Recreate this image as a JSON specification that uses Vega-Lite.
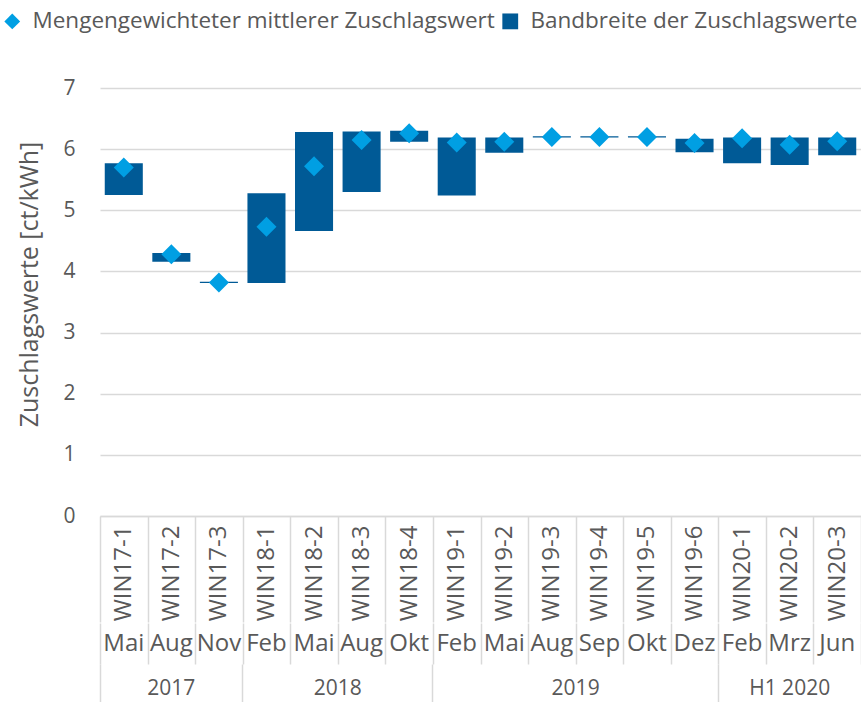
{
  "$schema": "https://vega.github.io/schema/vega-lite/v6.json",
  "padding": {"left": 1, "top": 10, "right": 0, "bottom": 0},
  "config": {
    "font": "Open Sans",
    "view": {"stroke": null},
    "concat": {"spacing": 0},
    "axis": {"labelColor": "#595959", "titleColor": "#595959", "labelFontSize": 21, "titleFontSize": 25, "titleFontWeight": "normal", "gridColor": "#d9d9d9", "domainColor": "#d9d9d9", "tickColor": "#d9d9d9", "gridWidth": 1.5, "tickWidth": 1.5, "domainWidth": 1.5},
    "legend": {"labelColor": "#595959", "labelFontSize": 22.5, "labelLimit": 600, "symbolSize": 250, "orient": "none", "legendX": -99, "legendY": -78, "direction": "horizontal", "title": null, "columnPadding": 4, "labelOffset": 9, "symbolStrokeWidth": 0}
  },
  "datasets": {
    "auctions": [
      {"id": "WIN17-1", "month": "Mai", "min": 5.25, "max": 5.77, "mean": 5.70},
      {"id": "WIN17-2", "month": "Aug", "min": 4.16, "max": 4.30, "mean": 4.28},
      {"id": "WIN17-3", "month": "Nov", "min": 3.81, "max": 3.83, "mean": 3.82},
      {"id": "WIN18-1", "month": "Feb", "min": 3.81, "max": 5.28, "mean": 4.73},
      {"id": "WIN18-2", "month": "Mai", "min": 4.66, "max": 6.28, "mean": 5.72},
      {"id": "WIN18-3", "month": "Aug", "min": 5.30, "max": 6.29, "mean": 6.15},
      {"id": "WIN18-4", "month": "Okt", "min": 6.12, "max": 6.30, "mean": 6.26},
      {"id": "WIN19-1", "month": "Feb", "min": 5.24, "max": 6.19, "mean": 6.11},
      {"id": "WIN19-2", "month": "Mai", "min": 5.94, "max": 6.19, "mean": 6.12},
      {"id": "WIN19-3", "month": "Aug", "min": 6.19, "max": 6.21, "mean": 6.20},
      {"id": "WIN19-4", "month": "Sep", "min": 6.19, "max": 6.21, "mean": 6.20},
      {"id": "WIN19-5", "month": "Okt", "min": 6.19, "max": 6.21, "mean": 6.20},
      {"id": "WIN19-6", "month": "Dez", "min": 5.95, "max": 6.17, "mean": 6.10},
      {"id": "WIN20-1", "month": "Feb", "min": 5.77, "max": 6.19, "mean": 6.18},
      {"id": "WIN20-2", "month": "Mrz", "min": 5.74, "max": 6.19, "mean": 6.07},
      {"id": "WIN20-3", "month": "Jun", "min": 5.90, "max": 6.19, "mean": 6.13}
    ]
  },
  "resolve": {"scale": {"x": "shared"}},
  "vconcat": [
    {
      "width": 761,
      "height": 428,
      "data": {"name": "auctions"},
      "encoding": {
        "x": {
          "field": "id", "type": "nominal", "sort": null,
          "scale": {"paddingInner": 0, "paddingOuter": 0, "domain": ["WIN17-1","WIN17-2","WIN17-3","WIN18-1","WIN18-2","WIN18-3","WIN18-4","WIN19-1","WIN19-2","WIN19-3","WIN19-4","WIN19-5","WIN19-6","WIN20-1","WIN20-2","WIN20-3"]},
          "axis": {"title": null, "labelAngle": -90, "labelAlign": "right", "labelBaseline": "middle", "labelFontSize": 24, "tickBand": "extent", "tickSize": 106, "labelPadding": -97, "domain": true, "grid": false}
        }
      },
      "layer": [
        {
          "mark": {"type": "bar", "width": {"band": 0.8}},
          "encoding": {
            "y": {"field": "min", "type": "quantitative", "scale": {"domain": [0, 7]}, "axis": {"title": "Zuschlagswerte [ct/kWh]", "values": [0,1,2,3,4,5,6,7], "format": "d", "grid": true, "domain": false, "ticks": false, "labelPadding": 25, "titlePadding": 20, "titleY": 196}},
            "y2": {"field": "max"},
            "color": {"datum": "Bandbreite der Zuschlagswerte", "scale": {"domain": ["Mengengewichteter mittlerer Zuschlagswert", "Bandbreite der Zuschlagswerte"], "range": ["#009FE3", "#005A96"]}}
          }
        },
        {
          "mark": {"type": "point", "filled": true, "size": 400, "opacity": 1},
          "encoding": {
            "y": {"field": "mean", "type": "quantitative"},
            "color": {"datum": "Mengengewichteter mittlerer Zuschlagswert", "scale": {"domain": ["Mengengewichteter mittlerer Zuschlagswert", "Bandbreite der Zuschlagswerte"], "range": ["#009FE3", "#005A96"]}},
            "shape": {"datum": "Mengengewichteter mittlerer Zuschlagswert", "scale": {"domain": ["Mengengewichteter mittlerer Zuschlagswert", "Bandbreite der Zuschlagswerte"], "range": ["diamond", "square"]}}
          }
        }
      ]
    },
    {
      "width": 761,
      "height": 41,
      "data": {"name": "auctions"},
      "mark": {"type": "text", "fontSize": 24, "color": "#595959"},
      "encoding": {
        "x": {"field": "id", "type": "nominal", "sort": null, "axis": {"title": null, "labels": false, "ticks": false, "domain": false, "grid": true, "tickBand": "extent"}},
        "text": {"field": "month"}
      }
    },
    {
      "width": 761,
      "height": 39,
      "encoding": {
        "x": {"field": "at", "type": "nominal", "axis": {"title": null, "labels": false, "ticks": false, "domain": false, "grid": true, "bandPosition": 0, "values": ["WIN17-1", "WIN18-1", "WIN19-1", "WIN20-1"]}}
      },
      "layer": [
        {
          "data": {"values": [{"year": "2017", "at": "WIN17-2"}, {"year": "H1 2020", "at": "WIN20-2"}]},
          "mark": {"type": "text", "fontSize": 21, "color": "#595959", "dy": 5},
          "encoding": {"x": {"field": "at", "type": "nominal", "bandPosition": 0.5}, "text": {"field": "year"}}
        },
        {
          "data": {"values": [{"year": "2018", "at": "WIN18-3"}, {"year": "2019", "at": "WIN19-4"}]},
          "mark": {"type": "text", "fontSize": 21, "color": "#595959", "dy": 5},
          "encoding": {"x": {"field": "at", "type": "nominal", "bandPosition": 0}, "text": {"field": "year"}}
        }
      ]
    }
  ]
}
